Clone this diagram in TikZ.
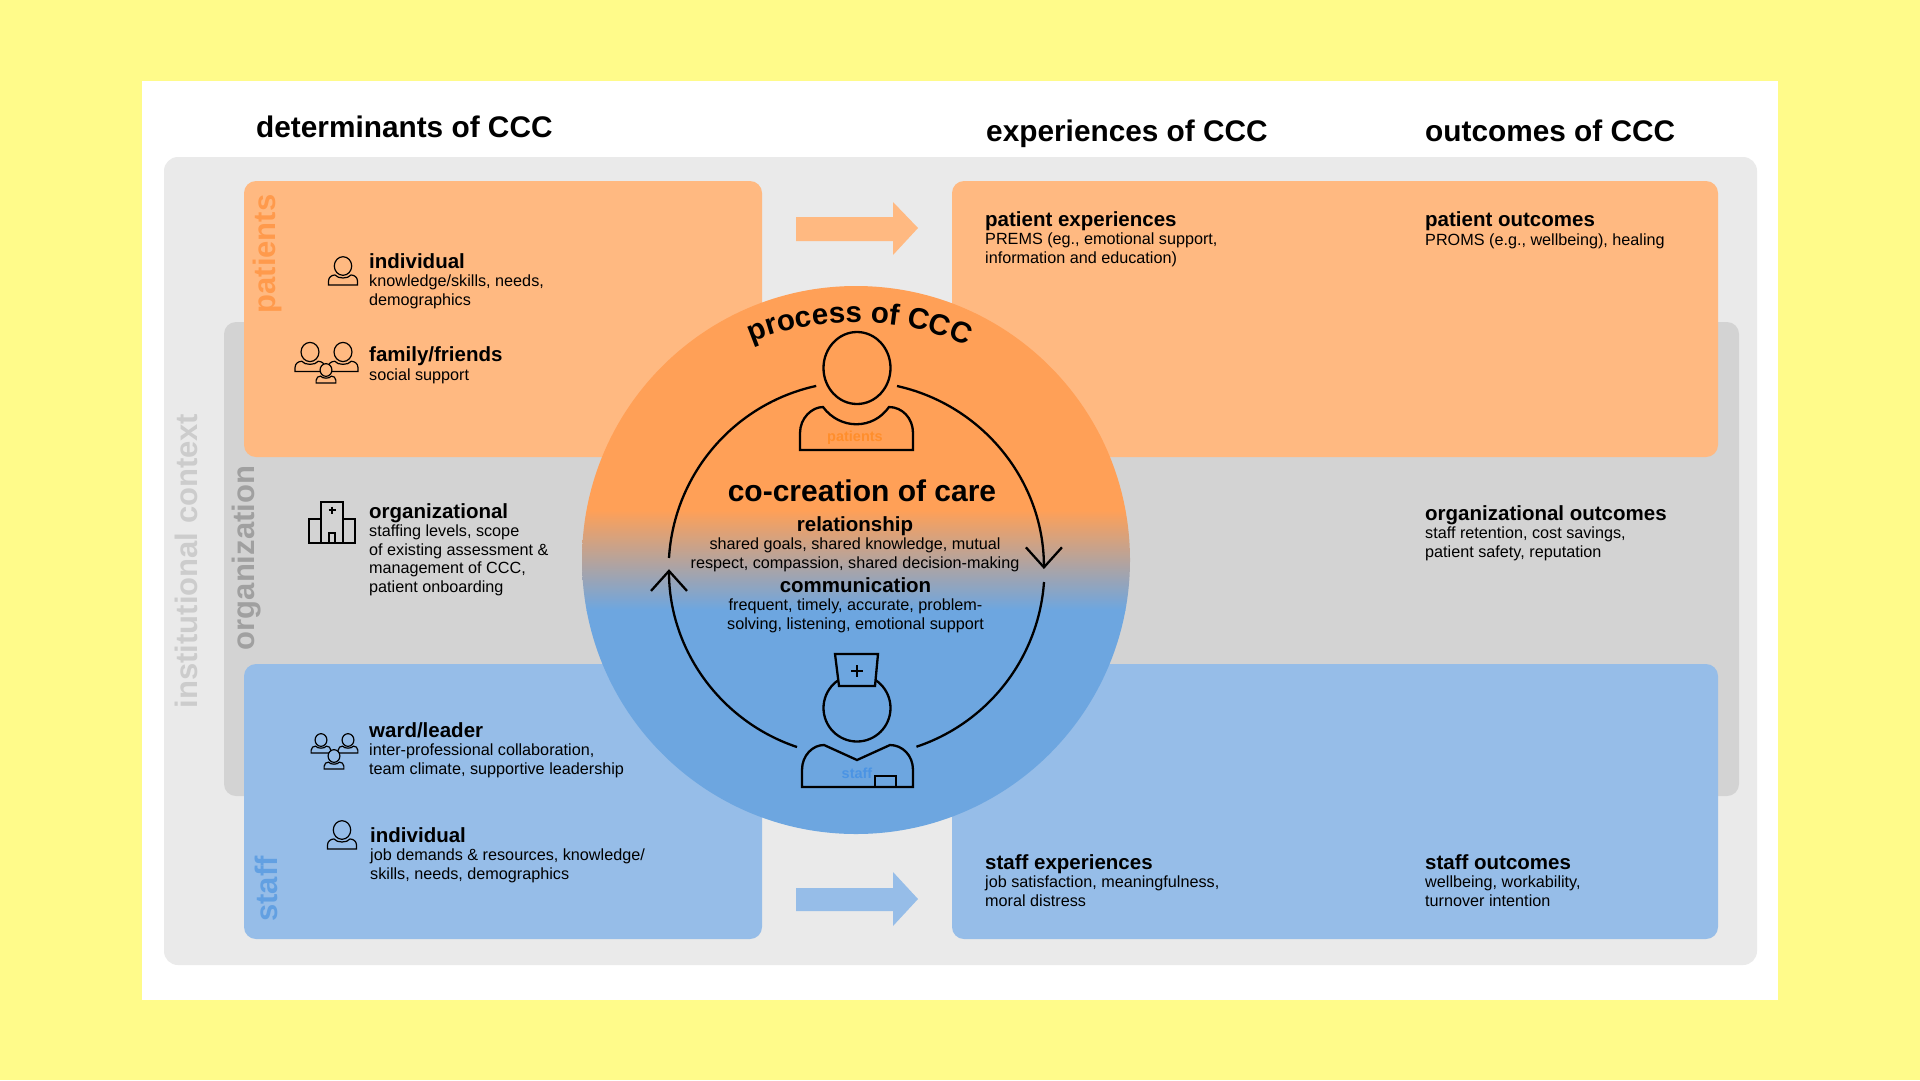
\documentclass[tikz,border=0pt]{standalone}
\usepackage{fontspec}
\setmainfont{Liberation Sans}
\usetikzlibrary{decorations.text,arrows.meta}
\definecolor{bgYellow}{HTML}{FFFB8A}
\definecolor{instGrey}{HTML}{EAEAEA}
\definecolor{instText}{HTML}{CCCCCC}
\definecolor{orgGrey}{HTML}{D3D3D3}
\definecolor{orgText}{HTML}{A0A0A0}
\definecolor{patBox}{HTML}{FFB981}
\definecolor{patMain}{HTML}{FFA057}
\definecolor{patSide}{HTML}{FF9A4C}
\definecolor{patFig}{HTML}{FF8E2C}
\definecolor{staffBox}{HTML}{96BDE8}
\definecolor{staffMain}{HTML}{6DA6E0}
\definecolor{staffSide}{HTML}{62A0E2}
\definecolor{staffFig}{HTML}{4B94E4}
\newcommand{\titlefont}{\fontsize{29.8}{32}\bfseries\selectfont}
\newcommand{\headfont}{\fontsize{20.5}{18.4}\bfseries\selectfont}
\newcommand{\bodyfont}{\fontsize{16.2}{18.4}\selectfont}
\newcommand{\sidefont}{\fontsize{31}{32}\bfseries\selectfont}
\tikzset{
  titletext/.style={anchor=base west, inner sep=0pt, font=\titlefont},
  infotext/.style={anchor=base west, inner sep=0pt, align=left, font=\bodyfont},
  circletext/.style={anchor=base, inner sep=0pt, align=center, font=\bodyfont},
  sidetext/.style={rotate=90, inner sep=0pt, font=\sidefont},
  smallicon/.style={draw=black, line width=1.2pt},
  bigicon/.style={draw=black, line width=2.3pt},
  ringarc/.style={draw=black, line width=2.3pt},
  personicon/.pic={
    \draw[smallicon, pic actions] (-14.5,19) -- (-14.5,15) .. controls (-14.5,11) and (-11,9) .. (-8,9)
      .. controls (-5,13) and (5,13) .. (8,9) .. controls (11,9) and (14.5,11) .. (14.5,15) -- (14.5,19) -- cycle;
    \draw[smallicon, pic actions] (0,0) ellipse (8.7 and 9.3);
  }
}
\begin{document}
\begin{tikzpicture}[x=1pt,y=-1pt]
    \useasboundingbox (0,0) rectangle (1920,1080);
    \fill[bgYellow] (0,0) rectangle (1920,1080);
    \fill[white] (142,81) rectangle (1778,1000);

    % Context panels
    \fill[instGrey, rounded corners=14pt] (164,157) rectangle (1757,965);
    \fill[orgGrey, rounded corners=12pt] (224,322) rectangle (1739,796);
    \fill[patBox, rounded corners=12pt] (244,181) rectangle (762,457);
    \fill[patBox, rounded corners=12pt] (952,181) rectangle (1718,457);
    \fill[staffBox, rounded corners=12pt] (244,664) rectangle (762,939);
    \fill[staffBox, rounded corners=12pt] (952,664) rectangle (1718,939);

    % Block arrows
    \fill[patBox] (796,217) -- (893,217) -- (893,202) -- (918,228) -- (893,255) -- (893,241) -- (796,241) -- cycle;
    \fill[staffBox] (796,888) -- (893,888) -- (893,872) -- (918,899) -- (893,926) -- (893,911) -- (796,911) -- cycle;

    % Titles
    \node[titletext] (dettitle) at (256,137.5) {determinants of CCC};
    \node[titletext] (exptitle) at (986,141) {experiences of CCC};
    \node[titletext] (outtitle) at (1425,141) {outcomes of CCC};

    % Side labels
    \node[sidetext, text=instText] (instlabel) at (186,561) {institutional context};
    \node[sidetext, text=orgText] (orglabel) at (247,558) {organization};
    \node[sidetext, text=patSide] (patlabel) at (267,254) {patients};
    \node[sidetext, text=staffSide] (stafflabel) at (266,889) {staff};

    % Determinants
    \pic at (343,266) {personicon};
    \node[infotext] (patindiv) at (369,305) {{\headfont individual}\\knowledge/skills, needs,\\demographics};
    \pic[scale=1.03] at (310,352) {personicon};
    \pic[scale=1.03] at (343,352) {personicon};
    \pic[scale=0.68, fill=patBox] at (326,370) {personicon};
    \node[infotext] (patfamily) at (369,380) {{\headfont family/friends}\\social support};
    \draw[smallicon] (321,502) rectangle (343,543);
    \draw[smallicon] (309,519) rectangle (321,543);
    \draw[smallicon] (343,519) rectangle (355,543);
    \draw[smallicon] (329,543) -- (329,533) -- (335,533) -- (335,543);
    \draw[smallicon] (328.5,510) -- (335.5,510) (332,506.5) -- (332,513.5);
    \node[infotext] (orgdet) at (369,592) {{\headfont organizational}\\staffing levels, scope\\of existing assessment \&\\management of CCC,\\patient onboarding};
    \pic[scale=0.68] at (321,740) {personicon};
    \pic[scale=0.68] at (348,740) {personicon};
    \pic[scale=0.68, fill=staffBox] at (334,756) {personicon};
    \node[infotext] (wardleader) at (369,774) {{\headfont ward/leader}\\inter-professional collaboration,\\team climate, supportive leadership};
    \pic at (342,830) {personicon};
    \node[infotext] (staffindiv) at (370,879) {{\headfont individual}\\job demands \& resources, knowledge/\\skills, needs, demographics};

    % Experiences and outcomes
    \node[infotext] (patexp) at (985,263) {{\headfont patient experiences}\\PREMS (eg., emotional support,\\information and education)};
    \node[infotext] (patout) at (1425,245) {{\headfont patient outcomes}\\PROMS (e.g., wellbeing), healing};
    \node[infotext] (orgout) at (1425,557) {{\headfont organizational outcomes}\\staff retention, cost savings,\\patient safety, reputation};
    \node[infotext] (staffexp) at (985,906) {{\headfont staff experiences}\\job satisfaction, meaningfulness,\\moral distress};
    \node[infotext] (staffout) at (1425,906) {{\headfont staff outcomes}\\wellbeing, workability,\\turnover intention};

    % Process circle
    \begin{scope}
      \clip (856,560) circle (274);
      \fill[patMain] (570,280) rectangle (1140,510);
      \shade[top color=patMain, bottom color=staffMain] (570,510) rectangle (1140,610);
      \fill[staffMain] (570,610) rectangle (1140,840);
    \end{scope}
    \path[decorate, decoration={text along path, text align=center,
      text={|\fontsize{29.5}{32}\bfseries\selectfont|process of CCC}}]
      (742,347) .. controls (806,314) and (912,314) .. (976,351);

    % Ring
    \draw[ringarc] (669,558) arc[start angle=-176.6, end angle=-102.3, radius=187.5];
    \draw[ringarc, -{Straight Barb[length=20pt,width=36pt]}] (897,386) arc[start angle=-77.5, end angle=0, radius=187.5];
    \draw[ringarc] (1044,582) arc[start angle=4, end angle=71.5, radius=187.5];
    \draw[ringarc, -{Straight Barb[length=20pt,width=36pt]}] (797,747) arc[start angle=108.5, end angle=180, radius=187.5];

    % Patient figure
    \draw[bigicon] (857,368) ellipse (33.5 and 36);
    \draw[bigicon] (800,450) -- (800,433) .. controls (800,418) and (812,407) .. (823,407)
      .. controls (840,430) and (873,430) .. (889,407) .. controls (902,407) and (913,418) .. (913,433) -- (913,450) -- cycle;
    \node[anchor=base, inner sep=0pt, text=patFig, font=\fontsize{14.5}{16}\bfseries\selectfont] (patfig) at (855,441) {patients};

    % Staff figure
    \draw[bigicon] (857,708) circle (33.5);
    \draw[bigicon, fill=staffMain] (835,654) -- (878,654) -- (875,686) -- (839,686) -- cycle;
    \draw[line width=1.8pt] (851,671) -- (863,671) (857,665) -- (857,677);
    \draw[bigicon] (802,787) -- (802,770) .. controls (802,755) and (813,745) .. (824,745)
      -- (857,760) -- (890,745) .. controls (902,745) and (913,755) .. (913,770) -- (913,787) -- cycle;
    \draw[bigicon] (875,787) -- (875,776) -- (896,776) -- (896,787);
    \node[anchor=base, inner sep=0pt, text=staffFig, font=\fontsize{14.5}{16}\bfseries\selectfont] (stafffig) at (857,778) {staff};

    % Circle texts
    \node[anchor=base, inner sep=0pt, font=\fontsize{30}{32}\bfseries\selectfont] (cocreation) at (862,501) {co-creation of care};
    \node[circletext] (relationship) at (855,568) {{\headfont relationship}\\shared goals, shared knowledge, mutual\\respect, compassion, shared decision-making};
    \node[circletext] (communication) at (855.5,629) {{\headfont communication}\\frequent, timely, accurate, problem-\\solving, listening, emotional support};
\end{tikzpicture}
\end{document}
